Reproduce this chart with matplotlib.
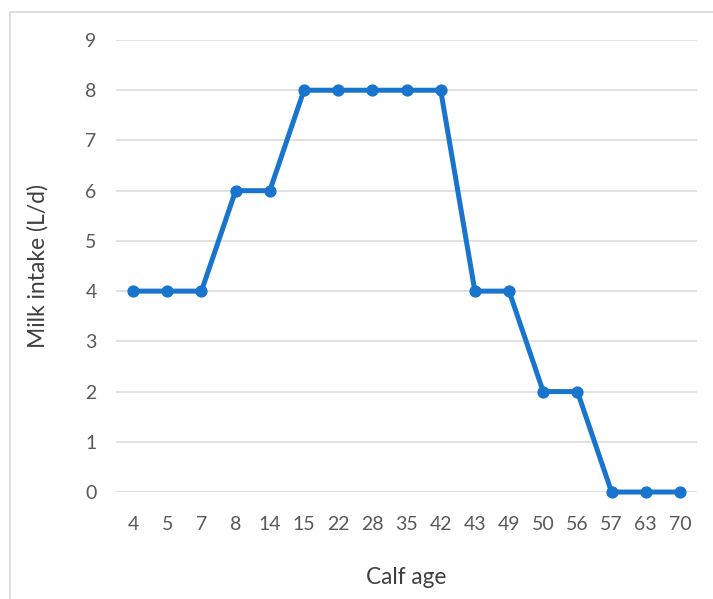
import matplotlib.pyplot as plt
from matplotlib.patches import Rectangle

# calf age (days) and daily milk allowance
ages = ['4', '5', '7', '8', '14', '15', '22', '28', '35', '42', '43', '49', '50', '56', '57', '63', '70']
milk = [4, 4, 4, 6, 6, 8, 8, 8, 8, 8, 4, 4, 2, 2, 0, 0, 0]
yticks = [0, 1, 2, 3, 4, 5, 6, 7, 8, 9]

plt.rcParams['font.family'] = ['Lato', 'DejaVu Sans']

fig = plt.figure(figsize=(7.13, 5.99), dpi=100)
ax = fig.add_axes([0.1627, 0.1786, 0.8149, 0.7546])

# chart frame, cut off at right and bottom
fig.patches.append(Rectangle((10 / 713, -0.05), 1.2, 1 - 12 / 599 + 0.05,
                             transform=fig.transFigure, fill=False,
                             edgecolor='#d9d9d9', linewidth=1.2))

x = list(range(len(ages)))
ax.plot(x, milk, color='#1874cd', linewidth=3.6, marker='o', markersize=7.8,
        solid_capstyle='round', zorder=3, clip_on=False)

ax.set_xlim(-0.5, len(ages) - 0.5)
ax.set_ylim(0, 9)
ax.set_yticks(yticks)
ax.set_xticks(x)
ax.set_xticklabels(ages)
ax.grid(axis='y', color='#d9d9d9', linewidth=1.1)
ax.set_axisbelow(True)
for s in ax.spines.values():
    s.set_visible(False)
ax.tick_params(axis='both', length=0, labelsize=14, colors='#595959')
ax.tick_params(axis='y', pad=14)
ax.tick_params(axis='x', pad=17)

ax.set_xlabel('Calf age', fontsize=16.3, color='#404040', labelpad=25)
ax.set_ylabel('Milk intake (L/d)', fontsize=16.5, color='#404040', labelpad=26)

fig.savefig('out.png', dpi=100)
